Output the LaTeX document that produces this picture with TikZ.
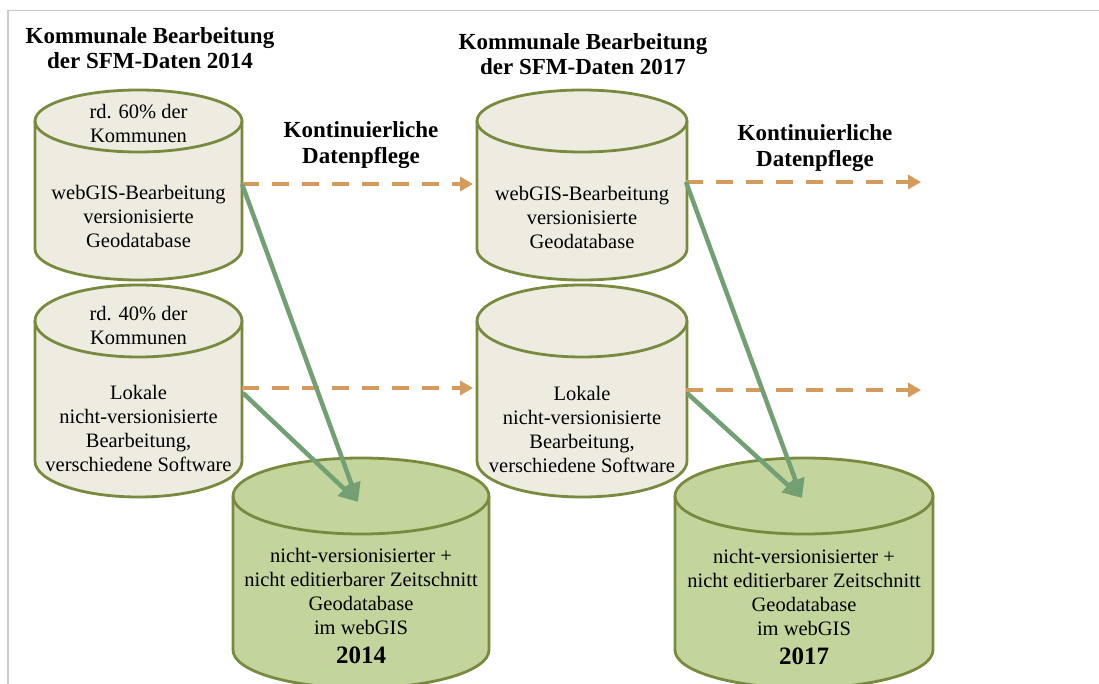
\documentclass[tikz,border=0pt]{standalone}
\usepackage{fontspec}
\setmainfont{Liberation Serif}
\usetikzlibrary{arrows.meta}

\definecolor{drumfill}{HTML}{EEECE1}
\definecolor{drumedge}{HTML}{788A3E}
\definecolor{snapfill}{HTML}{C3D59D}
\definecolor{flowgreen}{HTML}{72A074}
\definecolor{flowtan}{HTML}{D59B5C}
\definecolor{framegrey}{HTML}{CBCBCB}

\tikzset{
  drumline/.style={draw=drumedge, line width=2.8pt},
  bodytext/.style={align=center, inner sep=0pt, font=\fontsize{20.5}{24}\selectfont},
  headtext/.style={align=center, inner sep=0pt, font=\fontsize{23}{25.5}\selectfont\bfseries},
  yeartext/.style={inner sep=0pt, font=\fontsize{25}{28}\selectfont\bfseries},
  upkeep/.style={draw=flowtan, line width=4pt, dash pattern=on 17pt off 13pt,
    -{Triangle[length=13pt,width=14pt]}},
  export/.style={draw=flowgreen, line width=4.5pt,
    -{Triangle[length=19pt,width=18pt]}},
}

% cylinder: left x, right x, top-centre y, bottom-centre y, half height of ellipse, fill
\newcommand\cylbody[6]{%
  \pgfmathsetmacro\cylrx{(#2-#1)/2}%
  \filldraw[drumline, fill=#6] (#1,-#3) -- (#1,-#4)
    arc[start angle=180, end angle=360, x radius=\cylrx pt, y radius=#5pt]
    -- (#2,-#3)
    arc[start angle=0, end angle=180, x radius=\cylrx pt, y radius=#5pt] -- cycle;
  \draw[drumline] (#1,-#3)
    arc[start angle=180, end angle=360, x radius=\cylrx pt, y radius=#5pt];
}

\begin{document}
\begin{tikzpicture}[x=1pt, y=1pt]
\useasboundingbox (0,0) rectangle (1099,-684);

% page frame
\draw[framegrey, line width=1.5pt] (8,-684) -- (8,-10.5) -- (1099,-10.5);

% cylinders
\cylbody{35}{242}{121}{249}{31}{drumfill}
\cylbody{35}{242}{321}{461}{36}{drumfill}
\cylbody{477}{687}{121}{249}{31}{drumfill}
\cylbody{477}{687}{321}{461}{36}{drumfill}
\cylbody{233}{489}{496}{650}{38}{snapfill}
\cylbody{675}{933}{496}{650}{38}{snapfill}

% headings
\node[headtext] (h14) at (150,-48) {Kommunale Bearbeitung\\der SFM-Daten 2014};
\node[headtext] (h17) at (583,-54) {Kommunale Bearbeitung\\der SFM-Daten 2017};
\node[headtext] (p1) at (361,-145) {Kontinuierliche\\Datenpflege};
\node[headtext] (p2) at (815,-148) {Kontinuierliche\\Datenpflege};

% cylinder texts, 2014
\node[bodytext] (a1) at (138.5,-123) {rd. 60\% der\\Kommunen};
\node[bodytext] (a2) at (138.5,-216) {webGIS-Bearbeitung\\versionisierte\\Geodatabase};
\node[bodytext] (b1) at (138.5,-325) {rd. 40\% der\\Kommunen};
\node[bodytext] (b2) at (138.5,-428) {Lokale\\nicht-versionisierte\\Bearbeitung,\\verschiedene Software};
\node[bodytext] (s14) at (361,-591.5) {nicht-versionisierter +\\nicht editierbarer Zeitschnitt\\Geodatabase\\im webGIS};
\node[yeartext] (y14) at (361,-655) {2014};

% cylinder texts, 2017
\node[bodytext] (c2) at (582,-217) {webGIS-Bearbeitung\\versionisierte\\Geodatabase};
\node[bodytext] (d2) at (582,-429) {Lokale\\nicht-versionisierte\\Bearbeitung,\\verschiedene Software};
\node[bodytext] (s17) at (804,-592) {nicht-versionisierter +\\nicht editierbarer Zeitschnitt\\Geodatabase\\im webGIS};
\node[yeartext] (y17) at (804,-656) {2017};

% connector ends
\coordinate (aout) at (242,-184);
\coordinate (bout) at (242,-388);
\coordinate (bdown) at (243,-393);
\coordinate (cout) at (686,-182);
\coordinate (dout) at (686,-390);
\coordinate (ddown) at (687,-393);
\coordinate (cin) at (473,-184);
\coordinate (din) at (473,-388);
\coordinate (nextc) at (921,-182);
\coordinate (nextd) at (921,-390);
\coordinate (s14in) at (358,-502);
\coordinate (s17in) at (802,-498);

% continuous upkeep
\draw[upkeep] (aout) -- (cin);
\draw[upkeep] (bout) -- (din);
\draw[upkeep] (cout) -- (nextc);
\draw[upkeep] (dout) -- (nextd);

% snapshots
\draw[export] (aout) -- (s14in);
\draw[export] (bdown) -- (s14in);
\draw[export] (cout) -- (s17in);
\draw[export] (ddown) -- (s17in);
\end{tikzpicture}
\end{document}
